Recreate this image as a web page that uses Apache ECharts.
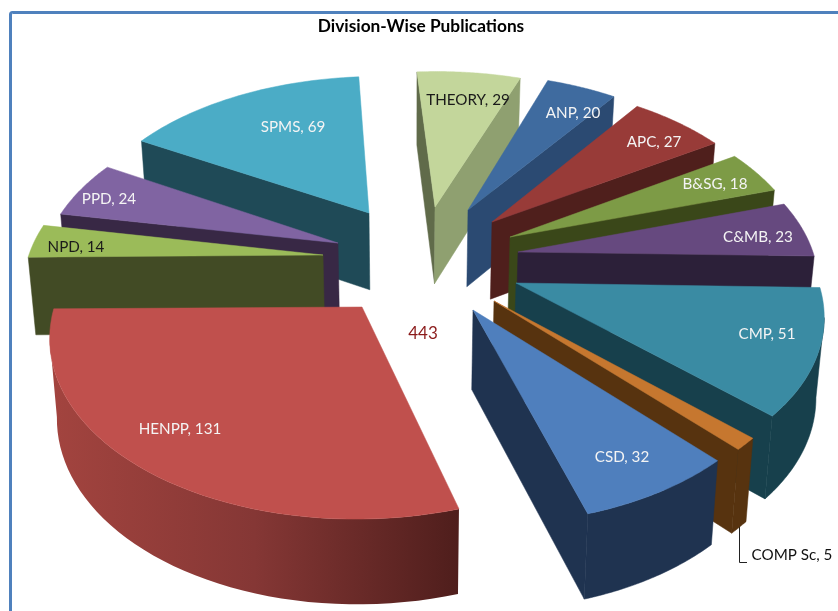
<!DOCTYPE html>
<html>
<head>
<meta charset="utf-8">
<title>Division-Wise Publications</title>
<style>
html, body { margin: 0; padding: 0; background: #fff; }
#main { width: 838px; height: 611px; }
</style>
<script src="https://cdn.jsdelivr.net/npm/echarts@6/dist/echarts.min.js"></script>
</head>
<body>
<div id="main"></div>
<script>
// values, clockwise from the top of the pie
var categories = ['THEORY', 'ANP', 'APC', 'B&SG', 'C&MB', 'CMP', 'COMP Sc', 'CSD', 'HENPP', 'NPD', 'PPD', 'SPMS'];
var publications = [29, 20, 27, 18, 23, 51, 5, 32, 131, 14, 24, 69];
var totalLabel = '443';

// looks
var topColors = ['#c3d69b', '#3f6b9f', '#983b38', '#7d9b46', '#66497f', '#3a8ba3', '#c6772f', '#4f7fbd', '#c0504d', '#9bbb59', '#8064a2', '#4bacc6'];
var sideColors = ['#8fa070', '#2b4a72', '#4f1f1c', '#3a4719', '#2c2039', '#17404c', '#57330f', '#1f3350', '#4f1e1c', '#424b25', '#382845', '#1f4a57'];
var startSideColors = ['#606b4a', '#2b4a72', '#4f1f1c', '#3a4719', '#2c2039', '#17404c', '#57330f', '#1f3350', '#4f1e1c', '#424b25', '#382845', '#1f4a57'];
var labelColors = ['#1a1a1a', '#f4f4f4', '#f4f4f4', '#f4f4f4', '#f4f4f4', '#f4f4f4', '#111', '#f4f4f4', '#f4f4f4', '#1a1a1a', '#f4f4f4', '#f4f4f4'];
// explode: where each slice's point ends up on the page
var slicePoint = [[435, 207], [468, 210], [492, 222], [510, 237], [518, 252], [516, 283], [494, 301], [473, 310], [362, 307], [323, 255], [338, 243], [369, 213]];
var labelPoint = [[468, 100], [573, 113], [654, 142], [715, 184], [758, 237], [767, 334], [792, 555], [622, 457], [180, 429], [76, 247], [109, 199], [293, 127]];
// the right half of the original pie is a little narrower than the left
var reachX = [1, 0.98, 0.98, 0.98, 0.975, 0.975, 0.98, 0.985, 1, 1, 1, 1];
// painted back to front
var drawOrder = [0, 1, 2, 3, 4, 5, 6, 7, 11, 10, 9, 8];

// camera for the tilted pie
var cam = { x0: 283, y0: 260, a: 298, b: 167, p: 0.14, shear: 0.037 };
var steps = 48;

var total = publications.reduce(function (s, v) { return s + v; }, 0);

function project(u, v) {
    var w = 1 - cam.p * v;
    var xr = cam.a * u / w;
    return [cam.x0 + xr, cam.y0 + cam.b * v / w - cam.shear * xr, w];
}

function toGround(pt) {
    var xr = pt[0] - cam.x0;
    var d = pt[1] - cam.y0 + cam.shear * xr;
    var v = d / (cam.b + cam.p * d);
    return [xr * (1 - cam.p * v) / cam.a, v];
}

// bottom of the slab under a top point
function drop(pt) {
    return [pt[0] + 0.02 * (410 - pt[0]), pt[1] + 45 + 33 / pt[2]];
}

function wallVisible(a, b, inner) {
    var ex = b[0] - a[0], ey = b[1] - a[1];
    var sideDown = ex;
    var sideInner = ex * (inner[1] - a[1]) - ey * (inner[0] - a[0]);
    return sideDown * sideInner < 0;
}

function wall(a, b, color) {
    return {
        type: 'polygon',
        shape: { points: [a.slice(0, 2), b.slice(0, 2), drop(b), drop(a)] },
        style: { fill: color, stroke: color, lineWidth: 0.5 }
    };
}

function renderSlice(params, api) {
    var idx = api.value(0);
    var before = 0;
    for (var i = 0; i < idx; i++) before += publications[i];
    var t0 = before / total * Math.PI * 2;
    var t1 = (before + api.value(1)) / total * Math.PI * 2;

    var g = toGround(slicePoint[idx]);
    var apex = project(g[0], g[1]);
    var rim = [];
    for (var s = 0; s <= steps; s++) {
        var t = t0 + (t1 - t0) * s / steps;
        rim.push(project(g[0] + reachX[idx] * Math.sin(t), g[1] - Math.cos(t)));
    }
    var mid = rim[Math.round(steps / 2)];
    var inner = [(apex[0] + mid[0]) / 2, (apex[1] + mid[1]) / 2];
    var children = [];

    var first = rim[0], last = rim[steps];
    if (wallVisible(apex, first, inner)) children.push(wall(apex, first, startSideColors[idx]));
    if (wallVisible(apex, last, inner)) children.push(wall(apex, last, sideColors[idx]));

    // outer wall, only the part facing us
    var run = [];
    for (var r = 0; r < steps; r++) {
        if (rim[r + 1][0] < rim[r][0]) {
            if (!run.length) run.push(rim[r]);
            run.push(rim[r + 1]);
        }
    }
    if (run.length) {
        var pts = run.map(function (p) { return p.slice(0, 2); });
        var under = run.map(drop).reverse();
        var fill = sideColors[idx];
        var edge = sideColors[idx];
        if (categories[idx] === 'HENPP') {
            fill = new echarts.graphic.LinearGradient(run[run.length - 1][0], 0, run[0][0], 0, [
                { offset: 0, color: '#a3443f' },
                { offset: 0.5, color: '#853735' },
                { offset: 1, color: '#4f1e1c' }
            ], true);
            edge = 'none';
        }
        children.push({
            type: 'polygon',
            shape: { points: pts.concat(under) },
            style: { fill: fill, stroke: edge, lineWidth: 0.5 }
        });
    }

    children.push({
        type: 'polygon',
        shape: { points: [apex.slice(0, 2)].concat(rim.map(function (p) { return p.slice(0, 2); })) },
        style: { fill: topColors[idx], stroke: topColors[idx], lineWidth: 0.5 }
    });

    children.push({
        type: 'text',
        style: {
            x: labelPoint[idx][0],
            y: labelPoint[idx][1],
            text: categories[idx] + ', ' + api.value(1),
            fill: labelColors[idx],
            font: '15.2px Lato',
            align: 'center',
            verticalAlign: 'middle'
        }
    });
    return { type: 'group', children: children };
}

var chart = echarts.init(document.getElementById('main'));
chart.setOption({
    animation: false,
    backgroundColor: '#fff',
    title: {
        text: 'Division-Wise Publications',
        left: 416,
        top: 13,
        textAlign: 'center',
        textStyle: { fontFamily: 'Lato', fontWeight: 'bold', fontSize: 17.3, color: '#000' }
    },
    graphic: [
        {
            type: 'rect', z: -1,
            shape: { x: 10.5, y: 12.5, width: 840, height: 620, r: 2 },
            style: { fill: '#fff', stroke: '#4f81bd', lineWidth: 3 }
        },
        {
            type: 'polyline', z: 1,
            shape: { points: [[739.5, 526], [739.5, 562.5], [747, 562.5]] },
            style: { fill: 'none', stroke: '#222', lineWidth: 1 }
        },
        {
            type: 'text', z: 1,
            style: { x: 423, y: 334, text: totalLabel, fill: '#8b1a1a', font: '17px Lato', align: 'center', verticalAlign: 'middle' }
        }
    ],
    series: [{
        type: 'custom',
        coordinateSystem: 'none',
        silent: true,
        clip: false,
        renderItem: renderSlice,
        data: drawOrder.map(function (i) { return [i, publications[i]]; })
    }]
});
</script>
</body>
</html>
